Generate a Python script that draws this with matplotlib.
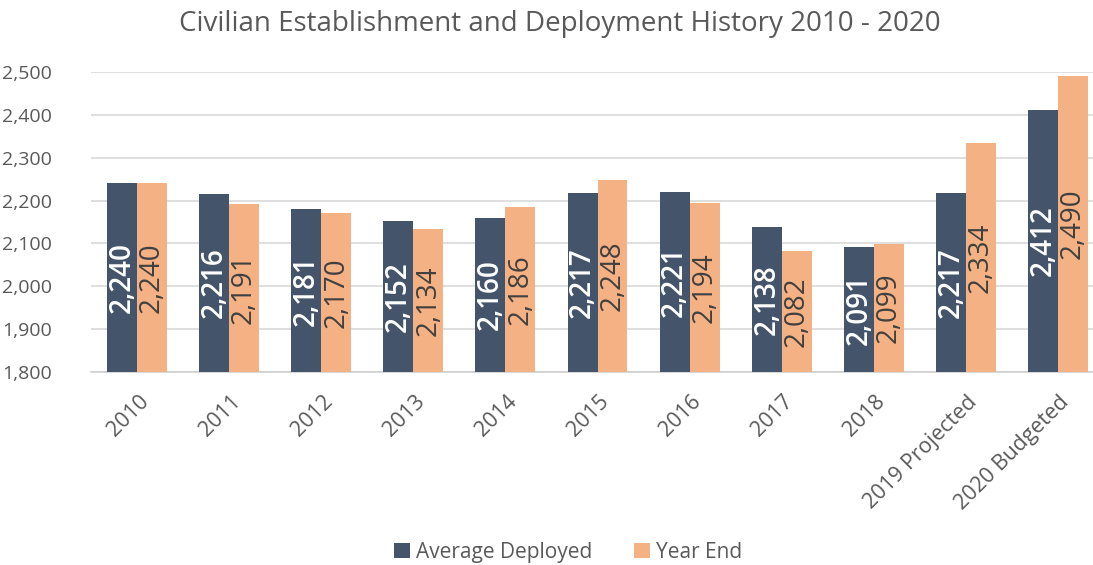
import numpy as np
import matplotlib.pyplot as plt

plt.rcParams['font.family'] = ['Open Sans', 'DejaVu Sans']

categories = ['2010', '2011', '2012', '2013', '2014', '2015', '2016', '2017', '2018',
              '2019 Projected', '2020 Budgeted']
avg_deployed = [2240, 2216, 2181, 2152, 2160, 2217, 2221, 2138, 2091, 2217, 2412]
year_end = [2240, 2191, 2170, 2134, 2186, 2248, 2194, 2082, 2099, 2334, 2490]

dark = '#44546A'
orange = '#F4B183'
grey = '#595959'

fig = plt.figure(figsize=(10.93, 5.65), dpi=100)
ax = fig.add_axes([91 / 1093, 1 - 372 / 565, 1 - 91 / 1093, (372 - 72) / 565])

x = np.arange(len(categories))
w = 0.325
base = 1800
b1 = ax.bar(x - w / 2, np.array(avg_deployed) - base, w, bottom=base, color=dark, zorder=3)
b2 = ax.bar(x + w / 2, np.array(year_end) - base, w, bottom=base, color=orange, zorder=3)

# labels sit in the middle of each bar
for i in range(len(categories)):
    ax.text(x[i] - w / 2, (avg_deployed[i] + base) / 2, f'{avg_deployed[i]:,}', rotation=90,
            ha='center', va='center', color='white', fontsize=20, fontweight='semibold', zorder=4)
    ax.text(x[i] + w / 2, (year_end[i] + base) / 2, f'{year_end[i]:,}', rotation=90,
            ha='center', va='center', color='#404040', fontsize=20, zorder=4)

ax.set_ylim(1800, 2500)
ax.set_xlim(-0.5, 10.38)
ax.set_yticks(range(1800, 2501, 100))
ax.set_yticklabels([f'{v:,}' for v in range(1800, 2501, 100)])
ax.yaxis.grid(True, color='#D9D9D9', linewidth=1.2, zorder=0)
ax.set_axisbelow(True)
for s in ['top', 'right', 'left']:
    ax.spines[s].set_visible(False)
ax.spines['bottom'].set_color('#D0D0D0')
ax.spines['bottom'].set_linewidth(1.2)
ax.tick_params(axis='y', length=0, pad=28, labelsize=14, labelcolor=grey)
ax.tick_params(axis='x', length=0, pad=14, labelsize=15.5, labelcolor=grey)
ax.set_xticks(x + 0.01)
ax.set_xticklabels(categories, rotation=45, ha='right', rotation_mode='anchor')

fig.text(0.512, 0.958, 'Civilian Establishment and Deployment History 2010 - 2020',
         ha='center', va='center', fontsize=20, color=grey)

fig.legend([b1, b2], ['Average Deployed', 'Year End'], loc='center', bbox_to_anchor=(0.52, 0.022),
           ncol=2, frameon=False, fontsize=15, labelcolor=grey, handlelength=0.75, handleheight=0.75,
           handletextpad=0.3, columnspacing=2.0)

fig.savefig('out.png', dpi=100)
